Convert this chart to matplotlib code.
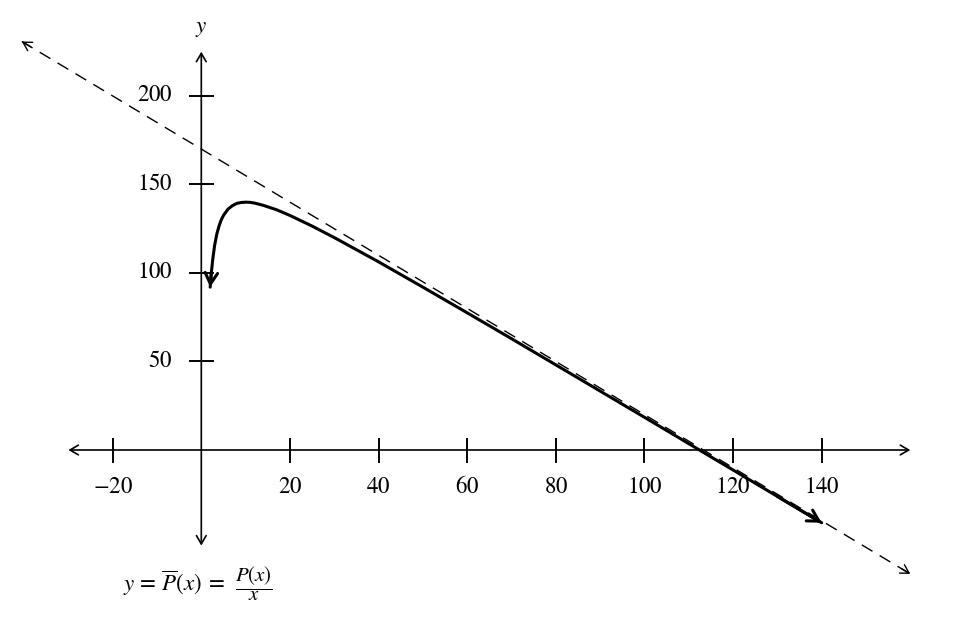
import matplotlib.pyplot as plt
from matplotlib import rcParams

rcParams['font.family'] = ['Liberation Serif', 'DejaVu Serif']
rcParams['mathtext.fontset'] = 'stix'

# average profit curve
curve_x = [2, 2.3, 2.6, 3, 3.5, 4, 4.5, 5, 6, 7, 8, 9, 10, 11, 12, 14, 17,
           20, 25, 30, 40, 50, 60, 70, 80, 90, 100, 110, 120, 130, 140]
curve_y = [92, 101, 108, 115.5, 122, 126.5, 130, 132.5, 136, 138, 139.3, 139.8,
           140, 139.9, 139.5, 138.2, 135.7, 132.5, 126.5, 120, 106.3, 92,
           77.5, 62.9, 48.1, 33.3, 18.5, 3.6, -11.3, -26.2, -41.1]

# dashed asymptote
asym_x = [-40.5, 160]
asym_y = [230.75, -70]

# axes
xaxis_span = [-30, 160]
yaxis_span = [-54, 225]
xticks = [-20, 20, 40, 60, 80, 100, 120, 140]
yticks = [50, 100, 150, 200]

fig = plt.figure(figsize=(9.63, 6.38), dpi=100)
ax = fig.add_axes([0, 0, 1, 1])
ax.set_xlim(-45.43, 171.9)
ax.set_ylim(-106.2, 254.2)
ax.axis('off')

# x and y axes with arrows at both ends
ax.annotate('', xy=(xaxis_span[1], 0), xytext=(xaxis_span[0], 0),
            arrowprops=dict(arrowstyle='<->,head_length=0.6,head_width=0.35',
                            lw=1.2, color='black', shrinkA=0, shrinkB=0))
ax.annotate('', xy=(0, yaxis_span[1]), xytext=(0, yaxis_span[0]),
            arrowprops=dict(arrowstyle='<->,head_length=0.6,head_width=0.35',
                            lw=1.2, color='black', shrinkA=0, shrinkB=0))

# tick marks (in points, crossing the axis)
for t in xticks:
    ax.plot([t, t], [0, 0], marker='|', markersize=18, mew=1.2, color='black')
    lbl = '$%d$' % t if t >= 0 else '$-%d$' % abs(t)
    ax.text(t, -21, lbl, ha='center', va='center', fontsize=16.5)
for t in yticks:
    ax.plot([0, 0], [t, t], marker='_', markersize=18, mew=1.2, color='black')
    ax.text(-6.5, t, '$%d$' % t, ha='right', va='center', fontsize=16.5)

ax.text(0, 238, '$y$', ha='center', va='center', fontsize=16.5)

# asymptote, dashed, with small open heads
ax.plot(asym_x, asym_y, color='black', lw=1.0, ls=(0, (9, 6)))
dx = asym_x[1] - asym_x[0]
dy = asym_y[1] - asym_y[0]
ax.annotate('', xy=(asym_x[0], asym_y[0]),
            xytext=(asym_x[0] + 0.01 * dx, asym_y[0] + 0.01 * dy),
            arrowprops=dict(arrowstyle='->,head_length=0.6,head_width=0.35',
                            lw=1.0, color='black', shrinkA=0, shrinkB=0))
ax.annotate('', xy=(asym_x[1], asym_y[1]),
            xytext=(asym_x[1] - 0.01 * dx, asym_y[1] - 0.01 * dy),
            arrowprops=dict(arrowstyle='->,head_length=0.6,head_width=0.35',
                            lw=1.0, color='black', shrinkA=0, shrinkB=0))

# the curve
ax.plot(curve_x, curve_y, color='black', lw=2.2, solid_capstyle='round')
ax.annotate('', xy=(curve_x[0], curve_y[0]), xytext=(curve_x[1], curve_y[1]),
            arrowprops=dict(arrowstyle='->,head_length=0.8,head_width=0.45',
                            lw=2.2, color='black', shrinkA=0, shrinkB=0))
ax.annotate('', xy=(curve_x[-1], curve_y[-1]), xytext=(curve_x[-2], curve_y[-2]),
            arrowprops=dict(arrowstyle='->,head_length=0.8,head_width=0.45',
                            lw=2.2, color='black', shrinkA=0, shrinkB=0))

# formula below the plot
ax.text(-17.7, -75.5, r'$y\, =\, \overline{P}(x)\; =$',
        ha='left', va='center', fontsize=16.5)
ax.text(7.6, -75.5, r'$\dfrac{P(x)}{x}$',
        ha='left', va='center', fontsize=15)

fig.savefig('out.png', dpi=100)
